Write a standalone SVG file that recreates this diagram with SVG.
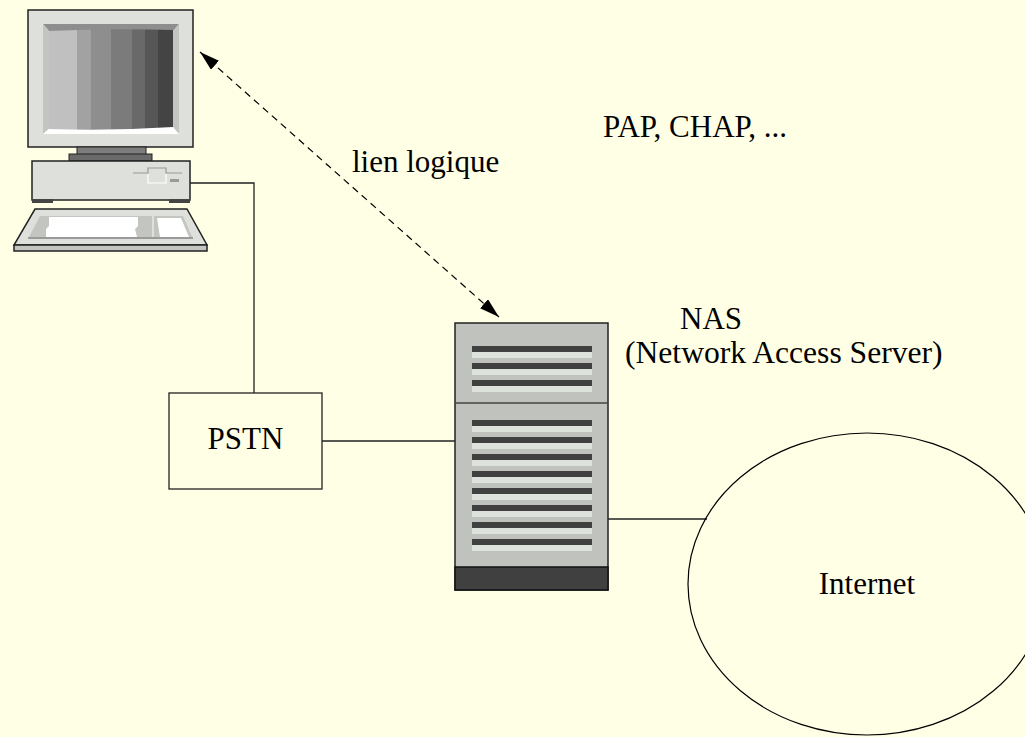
<svg xmlns="http://www.w3.org/2000/svg" width="1025" height="737" viewBox="0 0 1025 737">
  <defs>
    <style>
      .txt { font-family: "Liberation Serif", "Times New Roman", serif; font-size: 31px; fill: #000; }
      .edge { stroke: #222; stroke-width: 1.3; fill: none; }
      .case { fill: #dde0db; stroke: #222; stroke-width: 1.5; }
      .bevel { fill: #c3c6c0; }
      .bar-dk { fill: #404040; }
      .bar-lt { fill: #dde2dd; }
    </style>
    <marker id="head" viewBox="0 0 20 12" refX="20" refY="6" markerWidth="20" markerHeight="12" markerUnits="userSpaceOnUse" orient="auto-start-reverse">
      <path d="M0,0 L20,6 L0,12 z" fill="#000"/>
    </marker>
    <clipPath id="screenClip">
      <path d="M49,31 Q111,28 173,30 L173,127 Q111,131 49,129 Z"/>
    </clipPath>
    <!-- one vent slot of the server: dark stripe over a light stripe -->
    <g id="slot">
      <rect class="bar-dk" x="472" y="0" width="120" height="6"/>
      <rect class="bar-lt" x="472" y="6" width="120" height="6"/>
    </g>
  </defs>

  <rect width="1025" height="737" fill="#ffffe6"/>

  <!-- links -->
  <g id="connectors">
    <polyline class="edge" points="190,183 254,183 254,393"/>
    <line class="edge" x1="322" y1="441" x2="455" y2="441"/>
    <line class="edge" x1="608" y1="519" x2="707" y2="519"/>
    <line x1="200" y1="52" x2="499" y2="317" stroke="#000" stroke-width="1.2" stroke-dasharray="7 5" marker-start="url(#head)" marker-end="url(#head)"/>
  </g>

  <!-- workstation -->
  <g id="computer">
    <rect class="case" x="28" y="10" width="165" height="137"/>
    <polygon points="43,24 179,24 173,31 49,31" fill="#8e8e8e"/>
    <polygon class="bevel" points="43,24 49,31 49,128 43,134"/>
    <polygon class="bevel" points="179,24 179,134 173,128 173,31"/>
    <polygon points="43,134 179,134 173,127 49,129" fill="#ffffff"/>
    <g clip-path="url(#screenClip)">
      <rect x="49" y="26" width="28" height="106" fill="#c0c0c0"/>
      <rect x="77" y="26" width="14" height="106" fill="#a2a2a2"/>
      <rect x="91" y="26" width="20" height="106" fill="#8e8e8e"/>
      <rect x="111" y="26" width="21" height="106" fill="#7b7b7b"/>
      <rect x="132" y="26" width="13" height="106" fill="#696969"/>
      <rect x="145" y="26" width="13" height="106" fill="#565656"/>
      <rect x="158" y="26" width="15" height="106" fill="#444444"/>
    </g>
    <rect x="77" y="147" width="69" height="8" fill="#7d7d7d" stroke="#222" stroke-width="1"/>
    <rect x="69" y="154" width="83" height="7" fill="#6a6a6a" stroke="#222" stroke-width="1"/>
    <rect class="case" x="32" y="161" width="158" height="39"/>
    <rect x="32" y="199" width="21" height="4" fill="#444"/>
    <rect x="169" y="199" width="21" height="4" fill="#444"/>
    <path d="M133,173 H148 V168 H166 V173 H182" fill="none" stroke="#9a9a9a" stroke-width="1.2"/>
    <path d="M148,174 V183 H166 V174" fill="none" stroke="#ffffff" stroke-width="1.2"/>
    <rect x="170" y="179" width="9" height="3" fill="#9a9a9a"/>
    <polygon class="case" points="35,209 187,209 207,245 14,245"/>
    <rect x="14" y="245" width="193" height="6" fill="#c3c6c0" stroke="#222" stroke-width="1.5"/>
    <polygon class="bevel" points="40,216 152,216 152,239 28,239"/>
    <polygon points="49,217 138,217 138,226 135,229 137,237 46,237 46,229 49,226" fill="#ffffff"/>
    <polygon class="bevel" points="154,216 183,216 193,239 154,239"/>
    <polygon points="157,218 181,218 189,237 160,237" fill="#ffffff"/>
    <line x1="28" y1="238" x2="193" y2="238" stroke="#9a9a9a" stroke-width="2"/>
  </g>

  <!-- access server -->
  <g id="nas">
    <rect x="455" y="323" width="153" height="267" fill="#c0c3bd" stroke="#222" stroke-width="1.5"/>
    <line x1="455" y1="403" x2="608" y2="403" stroke="#444" stroke-width="1.5"/>
    <use href="#slot" y="346"/>
    <use href="#slot" y="363"/>
    <use href="#slot" y="380"/>
    <use href="#slot" y="420"/>
    <use href="#slot" y="437"/>
    <use href="#slot" y="454"/>
    <use href="#slot" y="471"/>
    <use href="#slot" y="488"/>
    <use href="#slot" y="505"/>
    <use href="#slot" y="522"/>
    <use href="#slot" y="539"/>
    <rect x="455" y="567" width="153" height="23" fill="#404040" stroke="#111" stroke-width="1.5"/>
    <text class="txt" x="680" y="329">NAS</text>
    <text class="txt" x="625" y="363" style="font-size:31.6px">(Network Access Server)</text>
  </g>

  <g id="pstn">
    <rect x="169" y="393" width="153" height="96" fill="none" stroke="#222" stroke-width="1.3"/>
    <text class="txt" x="245.5" y="449" text-anchor="middle">PSTN</text>
  </g>

  <g id="internet">
    <ellipse cx="867" cy="584" rx="179" ry="151" fill="none" stroke="#000" stroke-width="1.2"/>
    <text class="txt" x="867" y="594" text-anchor="middle">Internet</text>
  </g>

  <g id="labels">
    <text class="txt" x="352" y="172">lien logique</text>
    <text class="txt" x="603" y="137">PAP, CHAP, ...</text>
  </g>
</svg>
